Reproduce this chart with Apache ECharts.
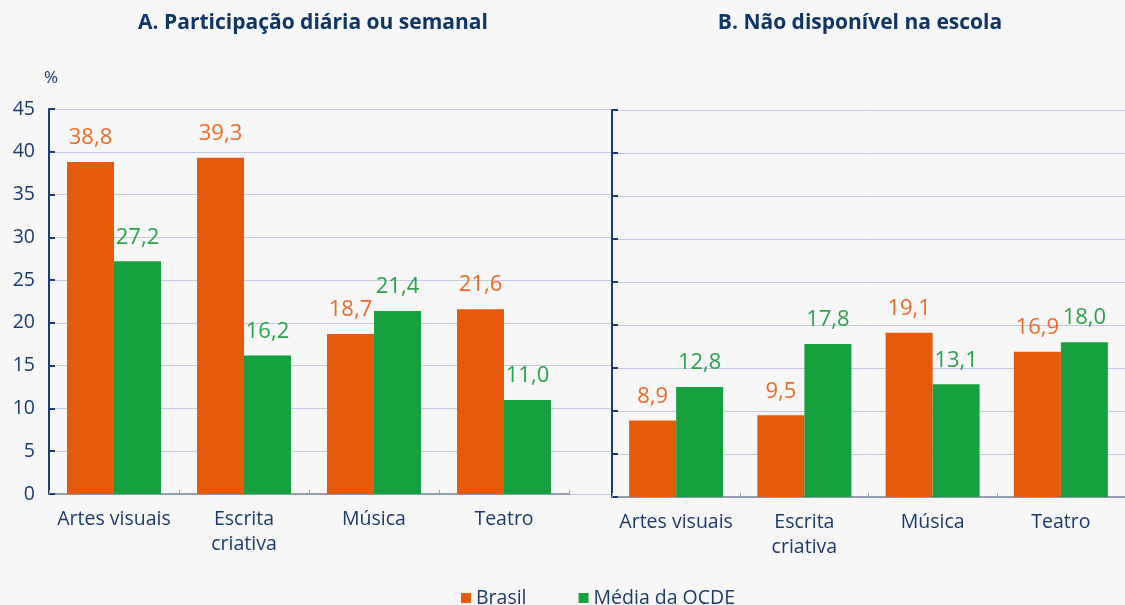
<!DOCTYPE html>
<html>
<head>
<meta charset="utf-8">
<script src="https://cdn.jsdelivr.net/npm/echarts@6/dist/echarts.min.js"></script>
<style>
html,body{margin:0;padding:0;background:#f7f7f7;}
#c{width:1125px;height:605px;}
</style>
</head>
<body>
<div id="c"></div>
<script>
var categories = ['Artes visuais', 'Escrita\ncriativa', 'Música', 'Teatro'];
var brasilA = [38.8, 39.3, 18.7, 21.6];
var ocdeA = [27.2, 16.2, 21.4, 11.0];
var brasilB = [8.9, 9.5, 19.1, 16.9];
var ocdeB = [12.8, 17.8, 13.1, 18.0];
var titleA = 'A. Participação diária ou semanal';
var titleB = 'B. Não disponível na escola';
var seriesNames = ['Brasil', 'Média da OCDE'];

var FONT = '"Open Sans", "Noto Sans", sans-serif';
var NAVY = '#1c3a6b';
var ORANGE = '#e65a0c';
var GREEN = '#17a03e';
var ORANGE_T = '#ee6a2a';
var GREEN_T = '#2aa34c';
var GRIDC = '#c3c8e3';

function fmt(p){ return p.value.toFixed(1).replace('.', ','); }

function yAx(gi, showLabels, showLine){
  return {
    type: 'value', gridIndex: gi, min: 0, max: 45, interval: 5,
    name: showLabels ? '%' : '', nameLocation: 'end', nameGap: 22,
    nameTextStyle: {color: NAVY, fontFamily: FONT, fontSize: 17, align: 'center', padding:[0,0,0,4]},
    axisLine: {show: showLine, lineStyle: {color: NAVY, width: 2}},
    axisTick: {show: showLine, inside: true, length: 6, lineStyle: {color: NAVY, width: 2}},
    axisLabel: {show: showLabels, color: NAVY, fontFamily: FONT, fontSize: 19.5, margin: 14},
    splitLine: {show: true, lineStyle: {color: GRIDC, width: 1}}
  };
}
function xAx(gi){
  return {
    type: 'category', gridIndex: gi, data: categories,
    axisLine: {show: true, lineStyle: {color: '#7d869c', width: 1.5}},
    axisTick: {show: true, inside: true, length: 4, lineStyle: {color: '#9aa1b3'}},
    axisLabel: {color: NAVY, fontFamily: FONT, fontSize: 19.5, lineHeight: 25, margin: 13, interval: 0}
  };
}
function bar(name, data, gi, color, tcolor){
  return {
    name: name, type: 'bar', xAxisIndex: gi, yAxisIndex: gi, data: data,
    barWidth: 47, barGap: '0%',
    itemStyle: {color: color},
    label: {show: true, position: 'top', distance: 13, formatter: fmt,
            color: tcolor, fontFamily: FONT, fontSize: 22},
    emphasis: {disabled: true}
  };
}

var chart = echarts.init(document.getElementById('c'));
chart.setOption({
  backgroundColor: '#f7f7f7',
  animation: false,
  title: [
    {text: titleA, left: 308, top: 8, textAlign: 'center',
     textStyle: {color: '#0f3567', fontFamily: FONT, fontSize: 21, fontWeight: 'bold'}},
    {text: titleB, left: 855, top: 8, textAlign: 'center',
     textStyle: {color: '#0f3567', fontFamily: FONT, fontSize: 21, fontWeight: 'bold'}}
  ],
  legend: {
    data: seriesNames, left: 456, top: 583, itemWidth: 10, itemHeight: 10, itemGap: 52,
    icon: 'rect',
    textStyle: {color: NAVY, fontFamily: FONT, fontSize: 19.5}
  },
  grid: [
    {left: 49, right: 556, top: 109, bottom: 111},
    {left: 569, right: 513, top: 109, bottom: 111},
    {left: 612, right: -3, top: 110, bottom: 108}
  ],
  xAxis: [
    xAx(0),
    {type: 'value', gridIndex: 1, show: false, min: 0, max: 1},
    xAx(2)
  ],
  yAxis: [
    yAx(0, true, true),
    yAx(1, false, false),
    yAx(2, false, true)
  ],
  series: [
    bar(seriesNames[0], brasilA, 0, ORANGE, ORANGE_T),
    bar(seriesNames[1], ocdeA, 0, GREEN, GREEN_T),
    bar(seriesNames[0], brasilB, 2, ORANGE, ORANGE_T),
    bar(seriesNames[1], ocdeB, 2, GREEN, GREEN_T)
  ]
});
</script>
</body>
</html>
